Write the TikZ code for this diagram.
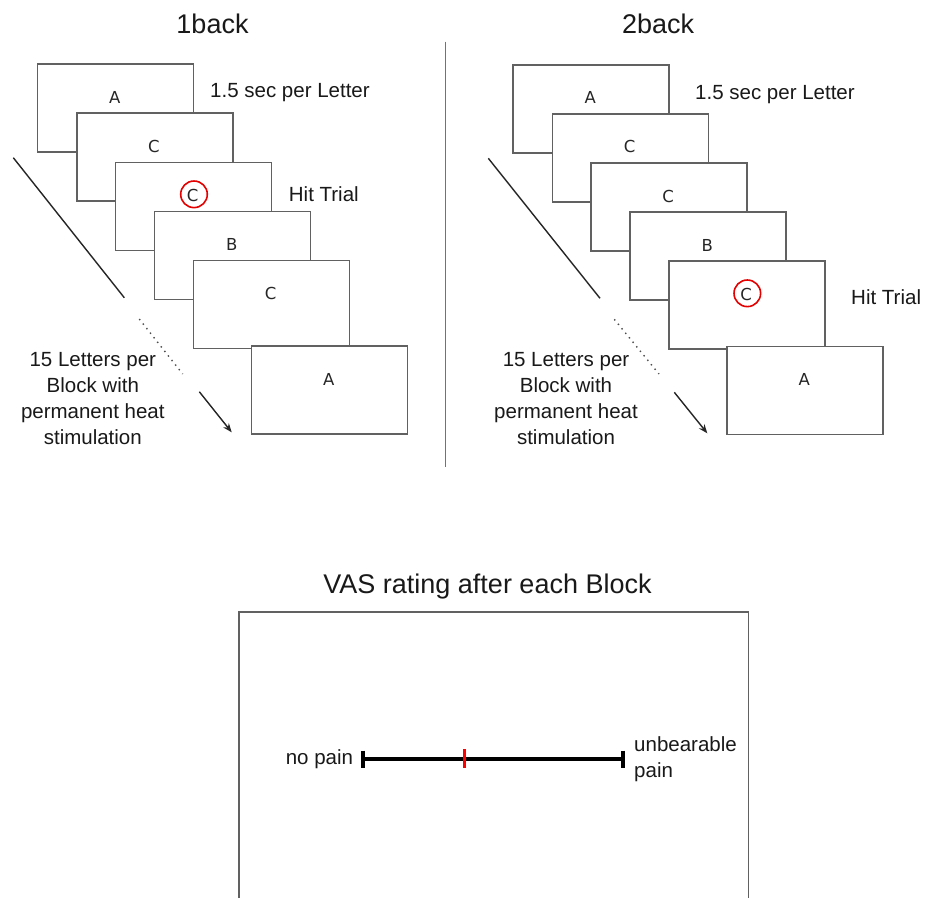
\documentclass[tikz,border=0pt]{standalone}
\usepackage{fontspec}
\setmainfont{Liberation Sans}
\newfontfamily\letterfont{DejaVu Sans}
\usetikzlibrary{arrows.meta}
\begin{document}
\begin{tikzpicture}[x=1pt,y=-1pt,
  card/.style={draw=black!62, line width=1.6pt, fill=white, minimum width=156pt, minimum height=88pt, anchor=north west, inner sep=0pt},
  letr/.style={anchor=base, inner sep=0pt, font=\letterfont\fontsize{16.5}{18}\selectfont, text=black!85},
  hitc/.style={circle, draw=red!90!black, line width=1.6pt, minimum size=26.6pt, inner sep=0pt},
  lbl/.style={inner sep=0pt, font=\fontsize{20.5}{26}\selectfont, text=black!90},
  ttl/.style={inner sep=0pt, anchor=base, font=\fontsize{27}{32}\selectfont, text=black!90},
  diag/.style={draw=black!85, line width=1.4pt},
  dotl/.style={draw=black!70, line width=1.4pt, dash pattern=on 1.4pt off 4.4pt},
  arr/.style={draw=black!85, line width=1.4pt, -{Stealth[length=9pt,width=7pt]}},
  sep/.style={draw=black!55, line width=1.4pt}
]
\useasboundingbox (0,0) rectangle (925,898);
\fill[white] (0,0) rectangle (925,898);

% ---------- left panel (1back) ----------
\foreach \i/\x/\y/\l in {1/36.7/63.3/A, 2/76/112.3/C, 3/114.7/161.7/C, 4/153.7/210.7/B, 5/192.7/259.7/C, 6/250.7/345/A}{
  \node[card] (L\i) at (\x,\y) {};
  \node[letr] (L\i t) at (\x+78,\y+40) {\l};
}
\node[hitc] (Lhit) at (194,194.3) {};
\node[ttl] (t1) at (212.5,33.3) {1back};
\node[lbl, anchor=base west] (Lsec) at (210,97.7) {1.5 sec per Letter};
\node[lbl, anchor=base west] (Lhitt) at (288.7,201.7) {Hit Trial};
\node[lbl, anchor=base, align=center] (Lblk) at (92.8,444.5) {15 Letters per\\Block with\\permanent heat\\stimulation};
\coordinate (La1) at (13.3,157.7); \coordinate (La2) at (124.3,297.7);
\coordinate (Lb1) at (139.3,319); \coordinate (Lb2) at (182.7,374);
\coordinate (Lc1) at (199.3,391.7); \coordinate (Lc2) at (231.7,432.3);
\draw[diag] (La1) -- (La2);
\draw[dotl] (Lb1) -- (Lb2);
\draw[arr] (Lc1) -- (Lc2);

% separator
\coordinate (s1) at (445.7,41.7); \coordinate (s2) at (445.7,466.7);
\draw[sep] (s1) -- (s2);

% ---------- right panel (2back) ----------
\foreach \i/\x/\y/\l in {1/512.2/63.9/A, 2/551.5/112.9/C, 3/590.2/162.3/C, 4/629.2/211.3/B, 5/668.2/260.3/C, 6/726.2/345.6/A}{
  \node[card] (R\i) at (\x,\y) {};
  \node[letr] (R\i t) at (\x+78,\y+40) {\l};
}
\node[hitc] (Rhit) at (747.3,293.3) {};
\node[ttl] (t2) at (658.2,33.3) {2back};
\node[lbl, anchor=base west] (Rsec) at (695,99) {1.5 sec per Letter};
\node[lbl, anchor=base west] (Rhitt) at (851,304) {Hit Trial};
\node[lbl, anchor=base, align=center] (Rblk) at (566,444.3) {15 Letters per\\Block with\\permanent heat\\stimulation};
\coordinate (Ra1) at (488.3,158.3); \coordinate (Ra2) at (600,298.3);
\coordinate (Rb1) at (614.3,319.3); \coordinate (Rb2) at (659,374);
\coordinate (Rc1) at (674.3,392.3); \coordinate (Rc2) at (707.3,433.3);
\draw[diag] (Ra1) -- (Ra2);
\draw[dotl] (Rb1) -- (Rb2);
\draw[arr] (Rc1) -- (Rc2);

% ---------- VAS ----------
\node[ttl] (t3) at (487.5,593.3) {VAS rating after each Block};
\coordinate (v1) at (239,898); \coordinate (v2) at (239,611.7);
\coordinate (v3) at (748.3,611.7); \coordinate (v4) at (748.3,898);
\draw[draw=black!62, line width=1.6pt] (v1) -- (v2) -- (v3) -- (v4);
\coordinate (sL) at (363.3,759); \coordinate (sR) at (623.3,759);
\draw[line width=4pt] (sL) -- (sR);
\draw[line width=4pt] (363.3,750.7) -- (363.3,767.5);
\draw[line width=4pt] (623.3,750.7) -- (623.3,767.5);
\draw[red, line width=3pt] (464,749.3) -- (464,767.5);
\node[lbl, anchor=base east] (np) at (353.3,764) {no pain};
\node[lbl, anchor=base west, align=left] (up) at (634,777.3) {unbearable\\pain};
\end{tikzpicture}
\end{document}
